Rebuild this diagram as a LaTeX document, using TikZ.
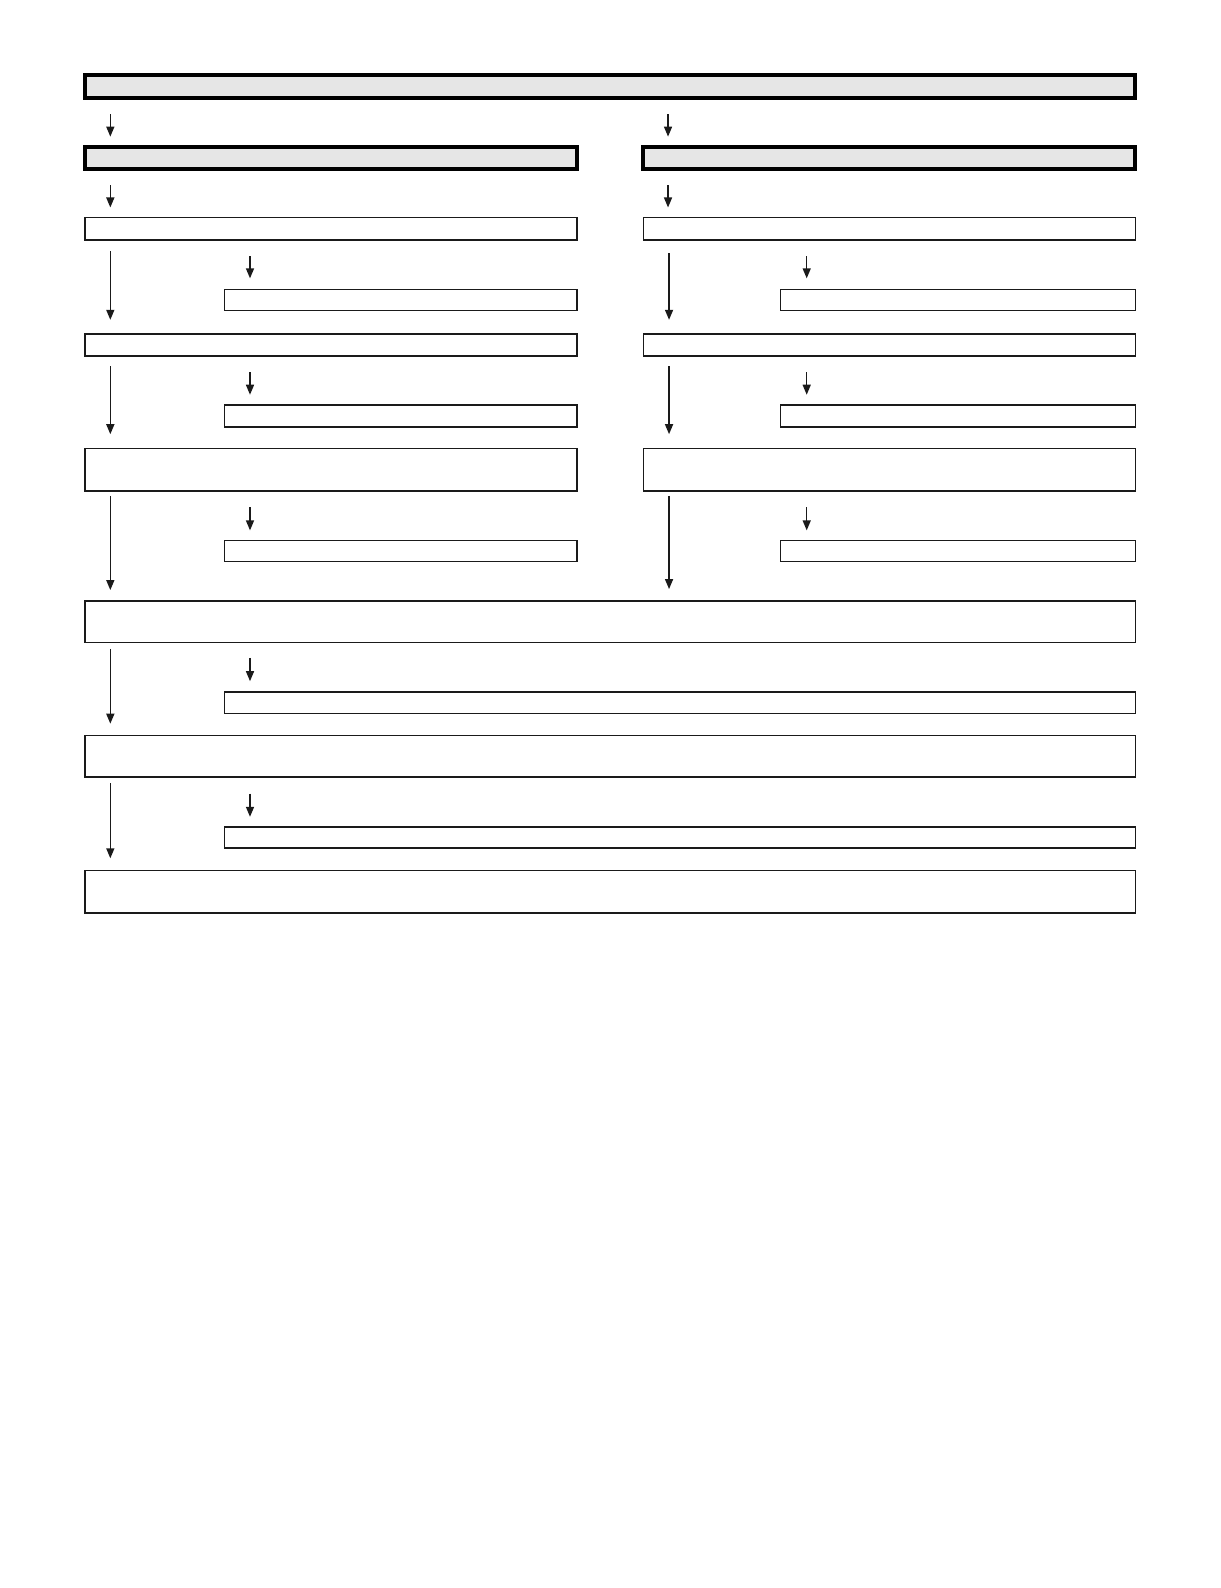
\documentclass[tikz,border=0pt]{standalone}
\usetikzlibrary{arrows.meta}
\definecolor{hdrgray}{HTML}{E6E6E6}
\definecolor{ink}{HTML}{1A1A1A}
\begin{document}
\begin{tikzpicture}[x=0.5pt,y=-0.5pt,
  box/.style={draw=ink,line width=0.75pt,fill=white,inner sep=0pt,outer sep=0pt,rectangle},
  hdr/.style={draw=black,line width=2pt,fill=hdrgray,inner sep=0pt,outer sep=0pt,rectangle},
  arr/.style={draw=ink,line width=0.7pt,-{Triangle[length=5pt,width=4pt]}}]
\useasboundingbox (0,0) rectangle (1220,1588);
\begin{scope}[scale=1.012,transform shape]
% headers
\node[hdr,minimum width=519pt,minimum height=11.5pt] (top) at (603,85.5) {};
\node[hdr,minimum width=243pt,minimum height=11pt] (lh) at (327,156) {};
\node[hdr,minimum width=243.5pt,minimum height=11pt] (rh) at (878.5,156) {};
% left column
\node[box,minimum width=243pt,minimum height=11pt] (l1) at (327,226) {};
\node[box,minimum width=174pt,minimum height=10.5pt] (s1l) at (396,296.5) {};
\node[box,minimum width=243pt,minimum height=11pt] (l2) at (327,341) {};
\node[box,minimum width=174pt,minimum height=11pt] (s2l) at (396,411) {};
\node[box,minimum width=243pt,minimum height=21pt] (l3) at (327,464) {};
\node[box,minimum width=174pt,minimum height=10.5pt] (s3l) at (396,544.5) {};
% right column
\node[box,minimum width=243pt,minimum height=11pt] (r1) at (879,226) {};
\node[box,minimum width=175.5pt,minimum height=10.5pt] (s1r) at (946.5,296.5) {};
\node[box,minimum width=243pt,minimum height=11pt] (r2) at (879,341) {};
\node[box,minimum width=175.5pt,minimum height=11pt] (s2r) at (946.5,411) {};
\node[box,minimum width=243pt,minimum height=21pt] (r3) at (879,464) {};
\node[box,minimum width=175.5pt,minimum height=10.5pt] (s3r) at (946.5,544.5) {};
% full width
\node[box,minimum width=519pt,minimum height=20.5pt] (f1) at (603,614.5) {};
\node[box,minimum width=450pt,minimum height=10.5pt] (sf1) at (672,694.5) {};
\node[box,minimum width=519pt,minimum height=20.5pt] (f2) at (603,747.5) {};
\node[box,minimum width=450pt,minimum height=10.5pt] (sf2) at (672,827.5) {};
\node[box,minimum width=519pt,minimum height=21pt] (f3) at (603,881) {};
% arrows
\draw[arr] (top.south west) ++(25,16) -- ++(0,22);
\draw[arr] (rh.north west) ++(25,-32) -- ++(0,22);
\draw[arr] (lh.south west) ++(25,16) -- ++(0,22);
\draw[arr] (rh.south west) ++(25,16) -- ++(0,22);
\draw[arr] (l1.south west) ++(25,11) -- ++(0,68);
\draw[arr] (r1.south west) ++(25,13) -- ++(0,66);
\draw[arr] (s1l.north west) ++(25,-33) -- ++(0,22);
\draw[arr] (s1r.north west) ++(26,-33) -- ++(0,22);
\draw[arr] (l2.south west) ++(25,10) -- ++(0,67);
\draw[arr] (r2.south west) ++(25,10) -- ++(0,67);
\draw[arr] (s2l.north west) ++(25,-32) -- ++(0,22);
\draw[arr] (s2r.north west) ++(26,-32) -- ++(0,22);
\draw[arr] (l3.south west) ++(25,5) -- ++(0,93);
\draw[arr] (r3.south west) ++(25,5) -- ++(0,92);
\draw[arr] (s3l.north west) ++(25,-33) -- ++(0,23);
\draw[arr] (s3r.north west) ++(26,-33) -- ++(0,23);
\draw[arr] (f1.south west) ++(25,6) -- ++(0,74);
\draw[arr] (sf1.north west) ++(25,-34) -- ++(0,23);
\draw[arr] (f2.south west) ++(25,6) -- ++(0,74);
\draw[arr] (sf2.north west) ++(25,-33) -- ++(0,23);
\end{scope}
\end{tikzpicture}
\end{document}
